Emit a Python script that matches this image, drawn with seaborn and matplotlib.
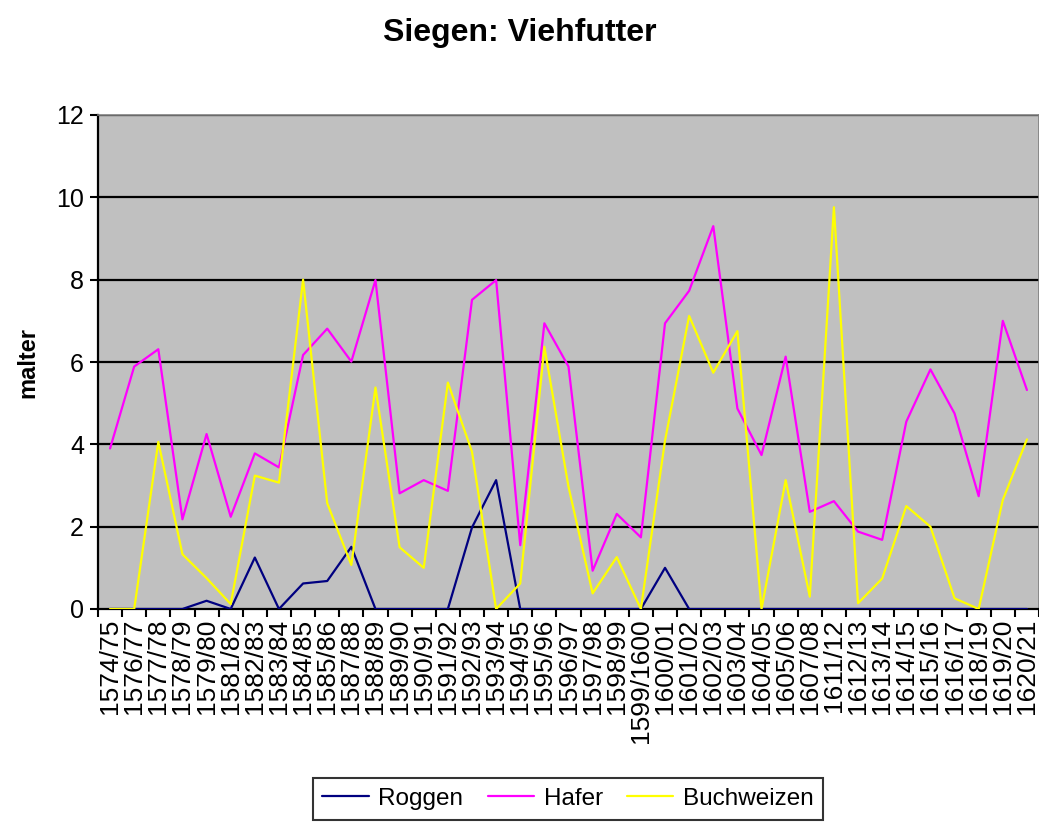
# Siegen: Viehfutter - Liniendiagramm

import matplotlib
matplotlib.use("Agg")
import matplotlib.pyplot as plt
import seaborn as sns
import pandas as pd

jahre = ["1574/75", "1576/77", "1577/78", "1578/79", "1579/80", "1581/82",
         "1582/83", "1583/84", "1584/85", "1585/86", "1587/88", "1588/89",
         "1589/90", "1590/91", "1591/92", "1592/93", "1593/94", "1594/95",
         "1595/96", "1596/97", "1597/98", "1598/99", "1599/1600", "1600/01",
         "1601/02", "1602/03", "1603/04", "1604/05", "1605/06", "1607/08",
         "1611/12", "1612/13", "1613/14", "1614/15", "1615/16", "1616/17",
         "1618/19", "1619/20", "1620/21"]

roggen = [0, 0, 0, 0, 0.2, 0, 1.25, 0, 0.62, 0.68, 1.51, 0, 0, 0, 0,
          1.98, 3.13, 0, 0, 0, 0, 0, 0, 1.0, 0, 0, 0, 0, 0, 0,
          0, 0, 0, 0, 0, 0, 0, 0, 0]

hafer = [3.9, 5.89, 6.31, 2.18, 4.25, 2.24, 3.78, 3.44, 6.17, 6.81, 6.01, 7.99,
         2.81, 3.13, 2.87, 7.51, 7.99, 1.55, 6.94, 5.89, 0.93, 2.31, 1.74, 6.94,
         7.73, 9.3, 4.87, 3.74, 6.13, 2.36, 2.62, 1.88, 1.68, 4.55, 5.82, 4.75,
         2.74, 7.0, 5.32]

buchweizen = [0, 0, 4.06, 1.33, 0.75, 0.12, 3.24, 3.07, 8.0, 2.57, 1.07, 5.38,
              1.5, 1.0, 5.5, 3.82, 0, 0.62, 6.37, 2.97, 0.38, 1.26, 0, 4.09,
              7.12, 5.74, 6.75, 0, 3.13, 0.3, 9.76, 0.14, 0.74, 2.5, 2.0, 0.26,
              0, 2.65, 4.12]

farben = {"Roggen": "#000080", "Hafer": "#FF00FF", "Buchweizen": "#FFFF00"}

# Daten in langes Format bringen
n = len(jahre)
df = pd.DataFrame({
    "pos": list(range(n)) * 3,
    "wert": roggen + hafer + buchweizen,
    "sorte": ["Roggen"] * n + ["Hafer"] * n + ["Buchweizen"] * n,
})

sns.set_style("white")
plt.rcParams["font.family"] = ["Liberation Sans", "DejaVu Sans"]
plt.rcParams["text.color"] = "black"
plt.rcParams["xtick.color"] = "black"
plt.rcParams["ytick.color"] = "black"
plt.rcParams["axes.labelcolor"] = "black"

fig = plt.figure(figsize=(10.39, 8.22), dpi=100)
ax = fig.add_axes([98 / 1039, 213 / 822, 941 / 1039, 494 / 822])
ax.set_facecolor("#C0C0C0")

sns.lineplot(data=df, x="pos", y="wert", hue="sorte", palette=farben,
             sort=False, linewidth=1.6, ax=ax, legend=False, zorder=3)

# Gitterlinien
ax.set_ylim(0, 12)
ax.set_yticks(range(0, 13, 2))
for y in range(2, 13, 2):
    ax.axhline(y, color="black", linewidth=1.6, zorder=1)

ax.set_xlim(-0.5, n - 0.5)
ax.set_xticks(range(n))
ax.set_xticklabels(jahre, rotation=90, fontsize=19)
ax.set_xticks([i - 0.5 for i in range(n + 1)], minor=True)
ax.tick_params(axis="x", which="major", length=0, pad=7)
ax.tick_params(axis="x", which="minor", length=6, width=1.5, color="black",
               direction="out", bottom=True)
ax.tick_params(axis="y", length=6, width=1.5, color="black", direction="out",
               left=True, labelsize=18, pad=4)

for s in ["left", "bottom"]:
    ax.spines[s].set_color("black")
    ax.spines[s].set_linewidth(1.6)
for s in ["top", "right"]:
    ax.spines[s].set_color("#808080")
    ax.spines[s].set_linewidth(1.2)

ax.set_xlabel("")
ax.set_ylabel("malter", fontsize=17, fontweight="bold", labelpad=12)

fig.suptitle("Siegen: Viehfutter", fontsize=23, fontweight="bold",
             x=0.5, y=0.978, va="top")

# Legende
handles = [plt.Line2D([], [], color=farben[k], linewidth=1.6) for k in farben]
leg = fig.legend(handles, list(farben.keys()), loc="lower center",
                 bbox_to_anchor=(568 / 1039, -0.012), ncol=3, fontsize=17.5,
                 frameon=True, fancybox=False, edgecolor="black",
                 handlelength=1.9, handletextpad=0.4, columnspacing=1.0,
                 borderpad=0.4)
leg.get_frame().set_linewidth(1.5)

fig.savefig("out.png", dpi=100)
